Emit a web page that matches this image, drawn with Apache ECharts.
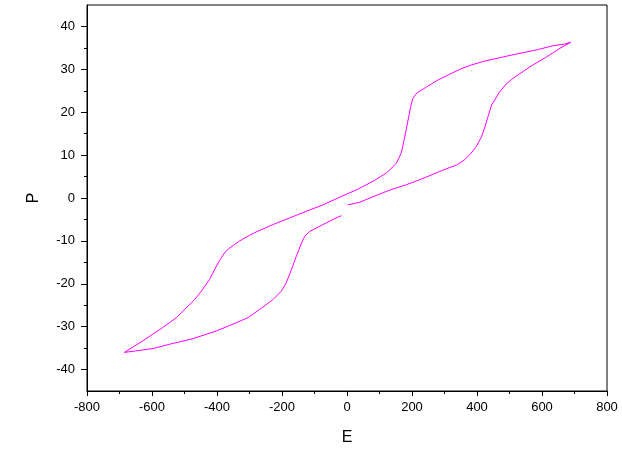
<!DOCTYPE html>
<html>
<head>
<meta charset="utf-8">
<script src="https://cdn.jsdelivr.net/npm/echarts@6/dist/echarts.min.js"></script>
<style>html,body{margin:0;padding:0;background:#fff}#c{width:622px;height:450px}</style>
</head>
<body>
<div id="c"></div>
<script>
// Hysteresis loop, traced in drawing order
const E = [
  3, 39, 80, 130, 183, 235, 285, 337, 360, 378, 398, 414, 424, 434, 445, 455, 468, 490, 511, 563, 614, 655, 688,
  670, 634, 587, 505, 422, 378, 350, 320, 277, 245, 215, 203, 196, 188, 178, 167, 152, 121, 80, 29, -22, -74, -125, -228, -279, -305, -330, -345, -360, -375, -390, -402, -423, -448, -469, -525, -567, -628, -685,
  -654, -597, -546, -474, -402, -341, -305, -269, -228, -202, -187, -171, -156, -140, -130, -115, -74, -43, -17
];
const P = [
  -1.6, -1.0, 0.3, 1.8, 3.1, 4.6, 6.2, 7.7, 8.8, 10.1, 12.0, 14.3, 16.5, 19.0, 21.7, 22.9, 24.6, 26.6, 27.9, 30.6, 32.9, 34.9, 36.3,
  35.9, 35.5, 34.6, 33.3, 31.9, 30.9, 30.1, 29.0, 27.4, 25.9, 24.5, 23.3, 21.3, 18.2, 14.3, 10.5, 8.1, 5.8, 3.9, 1.9, 0.2, -1.6, -3.1, -6.2, -7.9, -8.9, -10.0, -10.8, -11.6, -12.6, -14.3, -15.9, -19.0, -21.7, -23.7, -27.9, -30.2, -33.3, -36.0,
  -35.7, -35.1, -34.1, -32.8, -31.0, -29.1, -27.9, -26.0, -23.7, -21.7, -19.8, -16.7, -13.6, -10.5, -8.9, -7.8, -6.2, -5.0, -4.1
];
const yMajor = [-40, -30, -20, -10, 0, 10, 20, 30, 40];
const yMinor = [-35, -25, -15, -5, 5, 15, 25, 35];

const font = 'Arial, "Liberation Sans", sans-serif';
const data = E.map((e, i) => [e, P[i]]);
const chart = echarts.init(document.getElementById('c'), null, {renderer: 'canvas'});
chart.setOption({
  animation: false,
  backgroundColor: '#fff',
  grid: {left: 87, right: 15, top: 5, bottom: 59, show: true, borderColor: '#000', borderWidth: 1, backgroundColor: 'transparent', containLabel: false, outerBoundsMode: 'none'},
  xAxis: {
    type: 'value', min: -800, max: 800, interval: 200,
    name: 'E', nameLocation: 'middle', nameGap: 39,
    nameTextStyle: {fontFamily: font, fontSize: 16, color: '#000'},
    axisLine: {show: true, onZero: false, lineStyle: {color: '#000', width: 1}},
    axisTick: {show: true, inside: false, length: 5, lineStyle: {color: '#000'}},
    minorTick: {show: true, splitNumber: 2, length: 3, lineStyle: {color: '#000'}},
    axisLabel: {fontFamily: font, fontSize: 13, color: '#000', margin: 10},
    splitLine: {show: false}
  },
  yAxis: [{
    type: 'value', min: -45, max: 45,
    name: 'P', nameLocation: 'middle', nameGap: 45, nameRotate: 90,
    nameTextStyle: {fontFamily: font, fontSize: 16, color: '#000'},
    axisLine: {show: true, onZero: false, lineStyle: {color: '#000', width: 1}},
    axisTick: {show: true, inside: false, length: 6, customValues: yMajor, lineStyle: {color: '#000'}},
    axisLabel: {fontFamily: font, fontSize: 13, color: '#000', margin: 12, customValues: yMajor},
    splitLine: {show: false}
  }, {
    type: 'value', min: -45, max: 45, position: 'left',
    axisLine: {show: false, onZero: false},
    axisTick: {show: true, inside: false, length: 3, customValues: yMinor, lineStyle: {color: '#000'}},
    axisLabel: {show: false},
    splitLine: {show: false}
  }],
  series: [{
    type: 'line', data: data, showSymbol: false, smooth: false,
    lineStyle: {color: '#ff00ff', width: 1}, itemStyle: {color: '#ff00ff'}
  }]
});
</script>
</body>
</html>
